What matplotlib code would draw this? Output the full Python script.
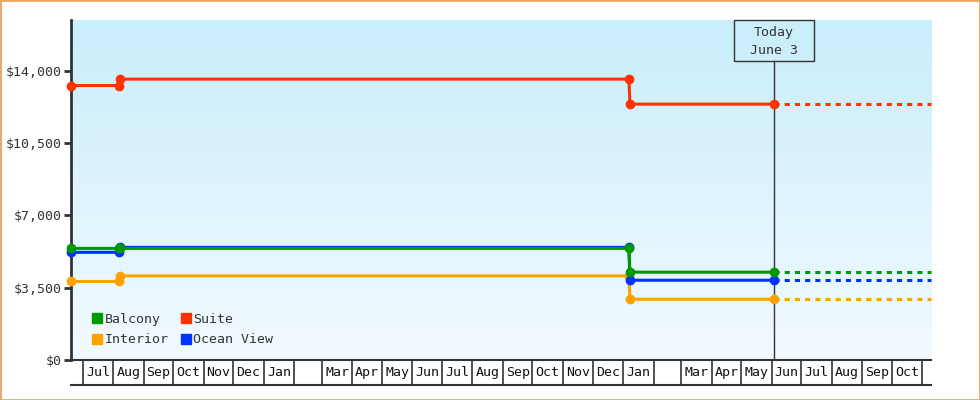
import datetime as dt
import numpy as np
import matplotlib
matplotlib.use("Agg")
import matplotlib.pyplot as plt
import matplotlib.transforms as mtrans
from matplotlib.patches import Patch, Rectangle

# price history (cabin prices at each change date)
change_dates = ["2017-06-19", "2017-08-07", "2017-08-08", "2019-01-07", "2019-01-08", "2019-06-03"]
balcony = [5400, 5400, 5400, 5400, 4250, 4250]
ocean_view = [5210, 5210, 5450, 5450, 3860, 3860]
interior = [3800, 3800, 4070, 4070, 2940, 2940]
suite = [13280, 13280, 13590, 13590, 12380, 12380]

today = "2019-06-03"
range_end = "2019-11-10"

yticks = [0, 3500, 7000, 10500, 14000]
ytick_labels = ["$0", "$3,500", "$7,000", "$10,500", "$14,000"]
month_names = ["Jan", "", "Mar", "Apr", "May", "Jun", "Jul", "Aug", "Sep", "Oct", "Nov", "Dec"]

series = [
    ("Interior", interior, "#ffa200"),
    ("Ocean View", ocean_view, "#0033ff"),
    ("Balcony", balcony, "#009a00"),
    ("Suite", suite, "#ff3300"),
]

mono = "DejaVu Sans Mono"
dark = "#333333"

def d(s):
    return dt.datetime.strptime(s, "%Y-%m-%d")

x = [d(s) for s in change_dates]
t = d(today)
xend = d(range_end)

fig = plt.figure(figsize=(9.8, 4.0), dpi=100)
ax = fig.add_axes([71 / 980, 40 / 400, 860 / 980, 340 / 400])

# gradient background
top = np.array([0xc9, 0xee, 0xfc]) / 255
bot = np.array([0xf2, 0xfa, 0xff]) / 255
g = np.linspace(0, 1, 256)[:, None]
grad = (top[None, :] * (1 - g) + bot[None, :] * g)[:, None, :]
ax.imshow(grad, extent=[0, 1, 0, 1], transform=ax.transAxes, aspect="auto", zorder=0)

for name, vals, col in series:
    ax.plot(x, vals, color=col, lw=2.2, marker="o", ms=6, zorder=3, clip_on=False)
    ax.plot([t, xend], [vals[-1], vals[-1]], color=col, lw=2.2,
            dashes=(1.67, 1.67), dash_capstyle="butt", zorder=3, clip_on=False)

ax.set_xlim(x[0], xend)
ax.set_ylim(0, 16450)

# today marker
ax.axvline(t, ymin=0, ymax=(360 - 60.7) / 340, color=dark, lw=1, zorder=2)
blend = mtrans.blended_transform_factory(ax.transData, ax.transAxes)
ax.text(t, 1 - 6 / 340, "Today\nJune 3", transform=blend, ha="center", va="top",
        family=mono, fontsize=9.5, color=dark, linespacing=1.45, zorder=4)
px, py = blend.transform((mdates_num := ax.convert_xunits(t), 1.0))
fig.patches.append(Rectangle((px - 40, py - 41), 80, 41, fill=False, ec=dark, lw=1,
                             transform=None, figure=fig, zorder=5))

# y axis
ax.set_yticks(yticks)
ax.set_yticklabels(ytick_labels, family=mono, fontsize=9.5, color=dark)
ax.tick_params(axis="y", length=5, width=2, color=dark, pad=2)

# x axis: month cells
bounds = []
m = dt.datetime(x[0].year, x[0].month, 1)
while m <= xend:
    if m > x[0]:
        bounds.append(m)
    m = dt.datetime(m.year + (m.month // 12), m.month % 12 + 1, 1)
ax.set_xticks(bounds)
ax.set_xticklabels([])
ax.tick_params(axis="x", which="major", length=18, width=1.2, color=dark, direction="out")
mids, labs = [], []
for a, b in zip(bounds[:-1], bounds[1:]):
    mids.append(a + (b - a) / 2)
    labs.append(month_names[a.month - 1])
ax.set_xticks(mids, minor=True)
ax.set_xticklabels(labs, minor=True, family=mono, fontsize=9.5, color="#111111")
ax.tick_params(axis="x", which="minor", length=0, pad=4)
ax.plot([0, 1], [-25 / 340, -25 / 340], transform=ax.transAxes, color=dark, lw=1.5, clip_on=False)

for s in ["top", "right"]:
    ax.spines[s].set_visible(False)
ax.spines["left"].set_color(dark)
ax.spines["left"].set_linewidth(2)
ax.spines["bottom"].set_color(dark)
ax.spines["bottom"].set_linewidth(1.5)

handles = [Patch(color=c, label=n) for n, v, c in
           [series[2], series[0], series[3], series[1]]]
ax.legend(handles=handles, ncol=2, loc="lower left", bbox_to_anchor=(0.011, 0.005),
          frameon=False, prop={"family": mono, "size": 9.5}, handlelength=0.75,
          handleheight=0.75, handletextpad=0.2, columnspacing=0.9, labelspacing=0.6,
          labelcolor=dark)

fig.patches.append(Rectangle((0, 0), 1, 1, transform=fig.transFigure, fill=False,
                             ec="#eaa864", lw=2, figure=fig))

fig.savefig("out.png", dpi=100)
